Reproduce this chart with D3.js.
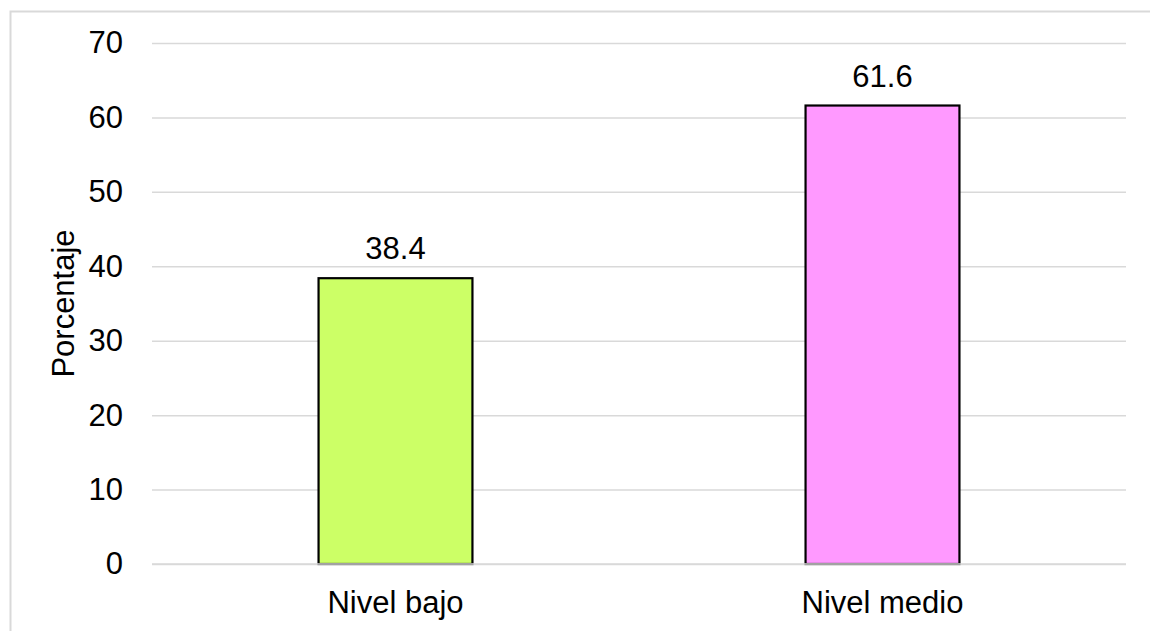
<!DOCTYPE html>
<html>
<head>
<meta charset="utf-8">
<script src="https://cdn.jsdelivr.net/npm/d3@7"></script>
<style>
  html, body { margin: 0; padding: 0; background: #ffffff; }
  svg { display: block; }
</style>
</head>
<body>
<svg id="chart" width="1150" height="631"></svg>
<script>
// Distribution by level (percent)
const categories = ["Nivel bajo", "Nivel medio"];
const values = [38.4, 61.6];
const barColors = ["#ccff66", "#ff99ff"];
const yTicks = [0, 10, 20, 30, 40, 50, 60, 70];
const yTitle = "Porcentaje";

const W = 1150, H = 631;
const margin = { left: 152, right: 24, top: 43, bottom: 67 };
const fontFamily = "'Liberation Sans', Arial, sans-serif";
const fontSize = "31px";

const svg = d3.select("#chart");

// outer chart frame
svg.append("rect")
  .attr("x", 10.5).attr("y", 11.5)
  .attr("width", W + 20).attr("height", H + 20)
  .attr("fill", "#ffffff")
  .attr("stroke", "#d9d9d9")
  .attr("stroke-width", 2);

const x = d3.scaleBand()
  .domain(categories)
  .range([margin.left, W - margin.right])
  .paddingInner(0.684)
  .paddingOuter(0.342);

const y = d3.scaleLinear()
  .domain([0, 70])
  .range([H - margin.bottom, margin.top]);

// horizontal gridlines + tick labels
const yAxis = d3.axisLeft(y)
  .tickValues(yTicks)
  .tickSize(-(W - margin.left - margin.right))
  .tickPadding(29)
  .tickFormat(d3.format("d"));

const gy = svg.append("g")
  .attr("transform", `translate(${margin.left},0)`)
  .call(yAxis);
gy.select(".domain").remove();
gy.selectAll(".tick line").attr("stroke", "#d9d9d9").attr("stroke-width", 1.5);
gy.selectAll(".tick text")
  .attr("fill", "#000")
  .style("font-family", fontFamily)
  .style("font-size", fontSize);

// bars
svg.append("g").selectAll("rect")
  .data(values)
  .join("rect")
  .attr("x", (d, i) => x(categories[i]))
  .attr("y", d => y(d))
  .attr("width", x.bandwidth())
  .attr("height", d => y(0) - y(d))
  .attr("fill", (d, i) => barColors[i])
  .attr("stroke", "#000")
  .attr("stroke-width", 2.2);

// baseline
svg.append("line")
  .attr("x1", margin.left).attr("x2", W - margin.right)
  .attr("y1", y(0)).attr("y2", y(0))
  .attr("stroke", "#d9d9d9").attr("stroke-width", 1.5);

// value labels
svg.append("g").selectAll("text")
  .data(values)
  .join("text")
  .attr("x", (d, i) => x(categories[i]) + x.bandwidth() / 2)
  .attr("y", d => y(d) - 19)
  .attr("text-anchor", "middle")
  .style("font-family", fontFamily)
  .style("font-size", fontSize)
  .attr("fill", "#000")
  .text(d => d3.format(".1f")(d));

// category labels
const xAxis = d3.axisBottom(x).tickSize(0).tickPadding(27);
const gx = svg.append("g")
  .attr("transform", `translate(0,${y(0)})`)
  .call(xAxis);
gx.select(".domain").remove();
gx.selectAll(".tick text")
  .attr("fill", "#000")
  .style("font-family", fontFamily)
  .style("font-size", fontSize);

// y axis title
svg.append("text")
  .attr("transform", `translate(74, ${(y(0) + y(70)) / 2}) rotate(-90)`)
  .attr("text-anchor", "middle")
  .style("font-family", fontFamily)
  .style("font-size", fontSize)
  .attr("fill", "#000")
  .text(yTitle);
</script>
</body>
</html>
